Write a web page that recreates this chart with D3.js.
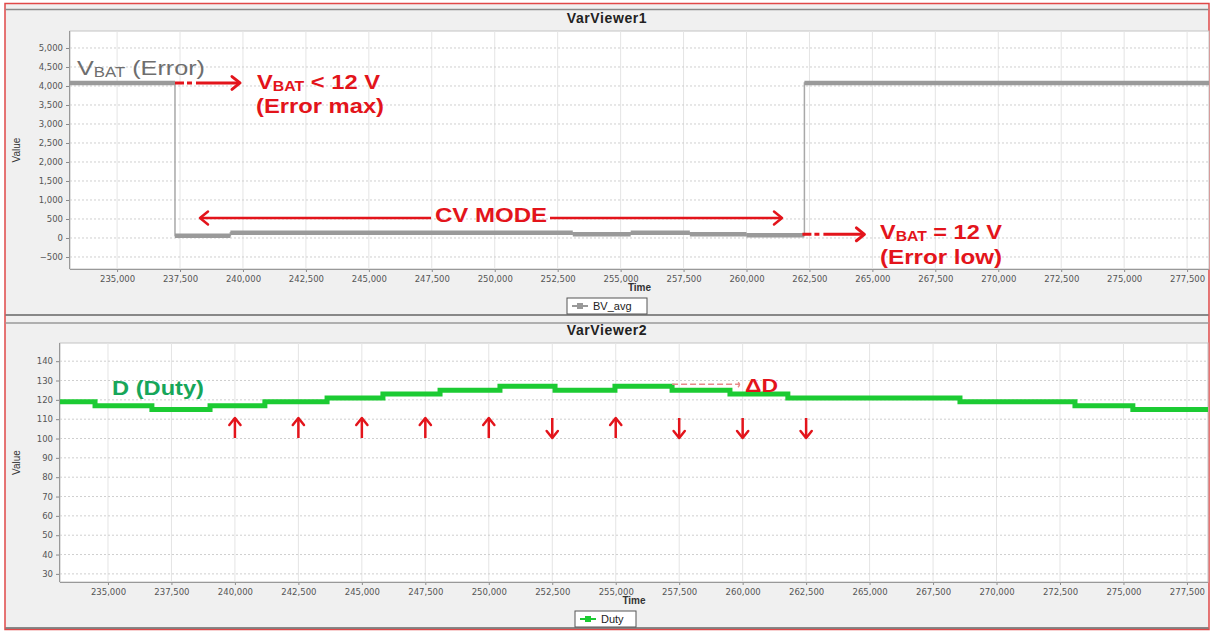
<!DOCTYPE html>
<html lang="en">
<head>
<meta charset="UTF-8">
<title>VarViewer</title>
<style>
  body { margin: 0; background: #fff; }
  svg { display: block; font-family: Arial, "Liberation Sans", sans-serif; }
  .tick text { font-family: "DejaVu Sans", sans-serif; font-size: 8.5px; fill: #555; }
  .tick line { stroke: #888; }
  .domain { stroke: #999; }
  .grid-h line { stroke: #cfcfcf; stroke-dasharray: 2,2; }
  .grid-v line { stroke: #e4e4e4; }
  .title { font-weight: bold; font-size: 14px; fill: #222; letter-spacing: 0.6px; }
  .axis-label { font-size: 10px; fill: #333; }
  .time-label { font-size: 10px; font-weight: bold; fill: #333; }
  .legend text { font-size: 11px; fill: #222; }
</style>
</head>
<body>
<svg id="chart" width="1211" height="631"></svg>
<script src="https://d3js.org/d3.v7.min.js"></script>
<script>
// time axis ticks (shared)
const timeTicks = [235000, 237500, 240000, 242500, 245000, 247500, 250000, 252500, 255000,
                   257500, 260000, 262500, 265000, 267500, 270000, 272500, 275000, 277500];

// VarViewer1 : BV_avg (step series, value holds from each time)
const bvTime  = [233130, 237300, 239500, 253100, 255400, 257750, 260000, 262300, 278370];
const bvValue = [4080,   60,     140,    100,    140,    100,    70,     4080,   4080];
const bvTicks = [-500, 0, 500, 1000, 1500, 2000, 2500, 3000, 3500, 4000, 4500, 5000];

// VarViewer2 : Duty (step series)
const dutyTime  = [233110, 234490, 236730, 239020, 241180, 243630, 245830, 248080, 250440,
                   252610, 254970, 257220, 259500, 261780, 268560, 273090, 275370, 278330];
const dutyValue = [119, 117, 115, 117, 119, 121, 123, 125, 127,
                   125, 127, 125, 123, 121, 119, 117, 115, 115];
const dutyTicks = [30, 40, 50, 60, 70, 80, 90, 100, 110, 120, 130, 140];

// red arrows under the duty curve
const arrowTimes = [240000, 242500, 245000, 247500, 250000, 252500, 255000, 257500, 260000, 262500];
const arrowDirs  = ["up", "up", "up", "up", "up", "down", "up", "down", "down", "down"];

const svg = d3.select("#chart");
const red = "#e3141b";
const fmt = d3.format(",");

// panel frames
svg.append("rect").attr("x", 5).attr("y", 3.5).attr("width", 1204).attr("height", 626)
  .attr("fill", "#f0f0f0").attr("stroke", "#e04848").attr("stroke-width", 1.5);
[[9.5, "#8a8a8a"], [315, "#666"], [323, "#9a9a9a"], [628, "#666"]].forEach(([y, c]) => {
  svg.append("line").attr("x1", 5.5).attr("x2", 1208.5).attr("y1", y).attr("y2", y)
    .attr("stroke", c).attr("stroke-width", 1.3);
});

function panel(opt) {
  const x = d3.scaleLinear().domain(opt.xDomain).range([opt.left, opt.right]);
  const y = d3.scaleLinear().domain(opt.yDomain).range([opt.bottom, opt.top]);

  svg.append("rect").attr("x", opt.left).attr("y", opt.top)
    .attr("width", opt.right - opt.left).attr("height", opt.bottom - opt.top)
    .attr("fill", "#fff").attr("stroke", "#c4c4c4");

  svg.append("g").attr("class", "grid-v")
    .selectAll("line").data(timeTicks).join("line")
    .attr("x1", d => x(d)).attr("x2", d => x(d)).attr("y1", opt.top).attr("y2", opt.bottom);
  svg.append("g").attr("class", "grid-h")
    .selectAll("line").data(opt.yTicks).join("line")
    .attr("x1", opt.left).attr("x2", opt.right).attr("y1", d => y(d)).attr("y2", d => y(d));

  svg.append("g").attr("transform", `translate(0,${opt.bottom})`)
    .call(d3.axisBottom(x).tickValues(timeTicks).tickFormat(fmt).tickSize(3).tickPadding(4))
    .call(g => g.select(".domain").remove());
  svg.append("line").attr("x1", opt.left).attr("x2", opt.right)
    .attr("y1", opt.bottom + 0.5).attr("y2", opt.bottom + 0.5).attr("stroke", "#999");
  svg.append("g").attr("transform", `translate(${opt.left},0)`)
    .call(d3.axisLeft(y).tickValues(opt.yTicks).tickFormat(fmt).tickSize(4).tickPadding(3))
    .call(g => g.select(".domain").remove());
  svg.append("line").attr("x1", opt.left - 0.5).attr("x2", opt.left - 0.5)
    .attr("y1", opt.top).attr("y2", opt.bottom).attr("stroke", "#999");

  svg.append("text").attr("class", "title").attr("x", 607).attr("y", opt.top - 8)
    .attr("text-anchor", "middle").text(opt.title);
  svg.append("text").attr("class", "time-label").attr("x", (opt.left + opt.right) / 2)
    .attr("y", opt.bottom + 22).attr("text-anchor", "middle").text("Time");
  svg.append("text").attr("class", "axis-label")
    .attr("transform", `translate(20,${(opt.top + opt.bottom) / 2}) rotate(-90)`)
    .attr("text-anchor", "middle").text("Value");

  // legend
  const lg = svg.append("g").attr("class", "legend")
    .attr("transform", `translate(${opt.legendX},${opt.bottom + 29})`);
  lg.append("rect").attr("width", opt.legendW).attr("height", 16)
    .attr("fill", "#fff").attr("stroke", "#555");
  lg.append("line").attr("x1", 5).attr("x2", 21).attr("y1", 8).attr("y2", 8)
    .attr("stroke", opt.color).attr("stroke-width", 2);
  lg.append("rect").attr("x", 10).attr("y", 5).attr("width", 6).attr("height", 6).attr("fill", opt.color);
  lg.append("text").attr("x", 26).attr("y", 12).text(opt.name);

  return { x, y };
}

// ---------- VarViewer1 ----------
const p1 = panel({
  title: "VarViewer1", left: 70, right: 1209, top: 31, bottom: 269,
  xDomain: [233130, 278370], yDomain: [-816, 5447], yTicks: bvTicks,
  legendX: 567, legendW: 80, color: "#999", name: "BV_avg"
});

// thin verticals + thick horizontals
svg.append("path").datum(bvTime.map((t, i) => [t, bvValue[i]]))
  .attr("fill", "none").attr("stroke", "#a8a8a8").attr("stroke-width", 1.5)
  .attr("d", d3.line().x(d => p1.x(d[0])).y(d => p1.y(d[1])).curve(d3.curveStepAfter));
svg.append("g").selectAll("line").data(d3.range(bvTime.length - 1)).join("line")
  .attr("x1", i => p1.x(bvTime[i])).attr("x2", i => p1.x(bvTime[i + 1]))
  .attr("y1", i => p1.y(bvValue[i])).attr("y2", i => p1.y(bvValue[i]))
  .attr("stroke", "#9a9a9a").attr("stroke-width", 4.5);

// ---------- VarViewer2 ----------
const p2 = panel({
  title: "VarViewer2", left: 60, right: 1208, top: 343, bottom: 582,
  xDomain: [233110, 278330], yDomain: [25.8, 149.4], yTicks: dutyTicks,
  legendX: 575, legendW: 61, color: "#1ccb33", name: "Duty"
});

svg.append("path").datum(dutyTime.map((t, i) => [t, dutyValue[i]]))
  .attr("fill", "none").attr("stroke", "#1ccb33").attr("stroke-width", 5)
  .attr("d", d3.line().x(d => p2.x(d[0])).y(d => p2.y(d[1])).curve(d3.curveStepAfter));

// ---------- annotations ----------
const ann = svg.append("g");

function head(x, y, dir, s, w) {
  // open chevron arrow head pointing in dir
  const pts = {
    right: [[x - s, y - s * 0.8], [x, y], [x - s, y + s * 0.8]],
    left:  [[x + s, y - s * 0.8], [x, y], [x + s, y + s * 0.8]],
    up:    [[x - s * 0.8, y + s], [x, y], [x + s * 0.8, y + s]],
    down:  [[x - s * 0.8, y - s], [x, y], [x + s * 0.8, y - s]]
  }[dir];
  ann.append("polyline").attr("points", pts.map(p => p.join(",")).join(" "))
    .attr("fill", "none").attr("stroke", red).attr("stroke-width", w)
    .attr("stroke-linecap", "round").attr("stroke-linejoin", "round");
}

function vbatText(x, y, rest, len, color, weight) {
  const t = ann.append("text").attr("x", x).attr("y", y).attr("fill", color)
    .attr("font-size", 21).attr("font-weight", weight);
  t.append("tspan").text("V");
  t.append("tspan").attr("font-size", 14).attr("dy", 1.5).text("BAT");
  t.append("tspan").attr("dy", -1.5).text(rest);
  t.attr("textLength", len).attr("lengthAdjust", "spacingAndGlyphs");
}

function plainText(x, y, txt, len, color, size) {
  ann.append("text").attr("x", x).attr("y", y).attr("fill", color)
    .attr("font-size", size).attr("font-weight", "bold")
    .attr("textLength", len).attr("lengthAdjust", "spacingAndGlyphs").text(txt);
}

vbatText(77, 75, " (Error)", 128, "#6e6e6e", "normal");

// error max arrow
const e1x = p1.x(bvTime[1]), e1y = p1.y(bvValue[0]);
ann.append("line").attr("x1", e1x).attr("x2", e1x + 64).attr("y1", e1y).attr("y2", e1y)
  .attr("stroke", red).attr("stroke-width", 3).attr("stroke-dasharray", "9,3,5,4,200");
head(e1x + 65, e1y, "right", 8, 3);
vbatText(257, 89, " < 12 V", 123, red, "bold");
plainText(256, 113, "(Error max)", 128, red, 20);

// CV mode arrow
const cvY = 218;
ann.append("line").attr("x1", 200).attr("x2", 431).attr("y1", cvY).attr("y2", cvY)
  .attr("stroke", red).attr("stroke-width", 2.5);
ann.append("line").attr("x1", 550).attr("x2", 782).attr("y1", cvY).attr("y2", cvY)
  .attr("stroke", red).attr("stroke-width", 2.5);
head(200, cvY, "left", 8, 2.5);
head(782, cvY, "right", 8, 2.5);
plainText(435, 222, "CV MODE", 112, red, 20);

// error low arrow
const e2x = p1.x(bvTime[7]), e2y = p1.y(bvValue[6]) - 1;
ann.append("line").attr("x1", e2x - 2).attr("x2", e2x + 58).attr("y1", e2y).attr("y2", e2y)
  .attr("stroke", red).attr("stroke-width", 3).attr("stroke-dasharray", "9,3,5,4,200");
head(e2x + 60, e2y, "right", 8, 3);
vbatText(880, 239, " = 12 V", 122, red, "bold");
plainText(880, 264, "(Error low)", 122, red, 20);

// duty annotations
plainText(112, 395, "D (Duty)", 92, "#17a65a", 20);

const dy = p2.y(127) - 2;
ann.append("line").attr("x1", p2.x(dutyTime[11])).attr("x2", 739).attr("y1", dy).attr("y2", dy)
  .attr("stroke", "#e88a8a").attr("stroke-width", 1.5).attr("stroke-dasharray", "6,3");
ann.append("path").attr("d", `M738,${dy - 2} q3,2 0,5`)
  .attr("fill", "none").attr("stroke", "#e88a8a").attr("stroke-width", 1.5);
plainText(745, 392, "\u0394D", 33, red, 19);

arrowTimes.forEach((t, i) => {
  const ax = p2.x(t);
  const y0 = 418, y1 = 438;
  ann.append("line").attr("x1", ax).attr("x2", ax).attr("y1", y0).attr("y2", y1)
    .attr("stroke", red).attr("stroke-width", 2.5);
  if (arrowDirs[i] === "up") head(ax, y0, "up", 7, 2.5);
  else head(ax, y1, "down", 7, 2.5);
});
</script>
</body>
</html>
